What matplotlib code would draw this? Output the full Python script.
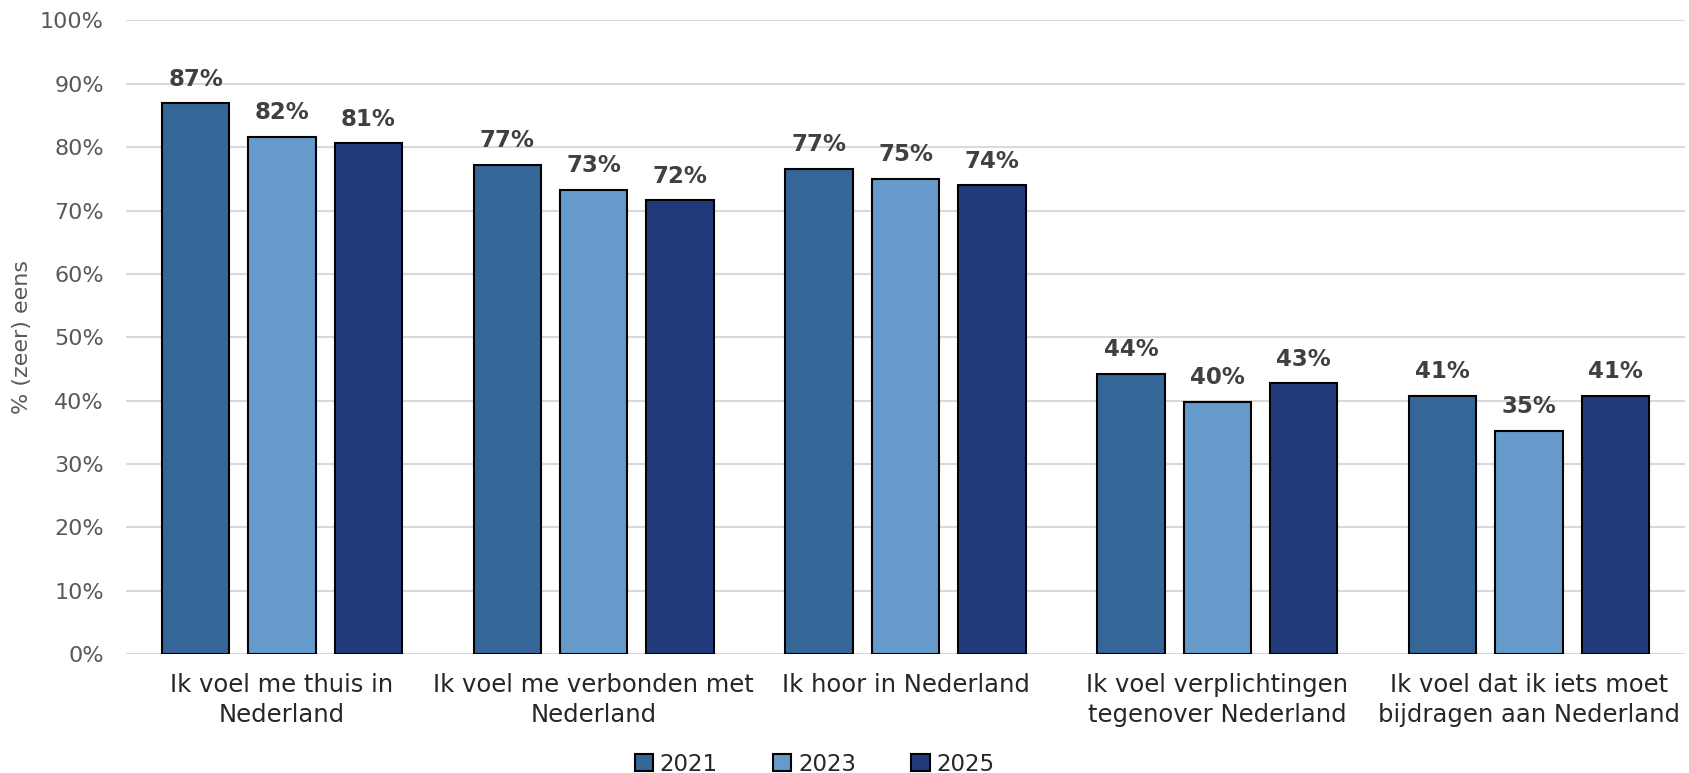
import matplotlib.pyplot as plt
import numpy as np

categories = [
    "Ik voel me thuis in\nNederland",
    "Ik voel me verbonden met\nNederland",
    "Ik hoor in Nederland",
    "Ik voel verplichtingen\ntegenover Nederland",
    "Ik voel dat ik iets moet\nbijdragen aan Nederland",
]
years = ["2021", "2023", "2025"]
v2021 = [86.9, 77.2, 76.6, 44.2, 40.8]
v2023 = [81.6, 73.3, 75.0, 39.8, 35.2]
v2025 = [80.6, 71.6, 74.0, 42.7, 40.8]
colors = ["#346697", "#659acb", "#203a7c"]

plt.rcParams['font.family'] = ['DejaVu Sans']

fig = plt.figure(figsize=(16.9, 7.73), dpi=100)
ax = fig.add_axes([0.0746, 0.154, 0.9224, 0.8195])

x = np.arange(len(categories))
step = 0.277
width = 0.216
for i, (vals, col, yr) in enumerate(zip([v2021, v2023, v2025], colors, years)):
    pos = x + (i - 1) * step
    bars = ax.bar(pos, vals, width, color=col, edgecolor="black", linewidth=1.5,
                  label=yr, zorder=3)
    for b, v in zip(bars, vals):
        ax.text(b.get_x() + b.get_width() / 2, v + 2.0, f"{round(v):.0f}%",
                ha="center", va="bottom", fontsize=16.5, fontweight="bold",
                color="#404040", zorder=4)

ax.set_xlim(-0.5, len(categories) - 0.5)
ax.set_ylim(0, 100)
ax.set_yticks(np.arange(0, 101, 10))
ax.set_yticklabels([f"{t}%" for t in range(0, 101, 10)])
ax.yaxis.grid(True, color="#d9d9d9", linewidth=1.5, zorder=0)
ax.set_axisbelow(True)
for s in ax.spines.values():
    s.set_visible(False)
ax.tick_params(axis="y", length=0, labelsize=16, labelcolor="#595959", pad=16)
ax.tick_params(axis="x", length=0, labelsize=17.5, labelcolor="#262626", pad=14)
ax.set_xticks(x)
ax.set_xticklabels(categories, linespacing=1.3)
ax.set_ylabel("% (zeer) eens", fontsize=16, color="#595959", labelpad=6)

fig.legend(loc="lower center", bbox_to_anchor=(0.482, -0.03), ncol=3, frameon=False,
           fontsize=16.5, handlelength=0.8, handleheight=0.8, handletextpad=0.3,
           columnspacing=2.4, labelcolor="#262626")

fig.savefig("out.png", dpi=100)
